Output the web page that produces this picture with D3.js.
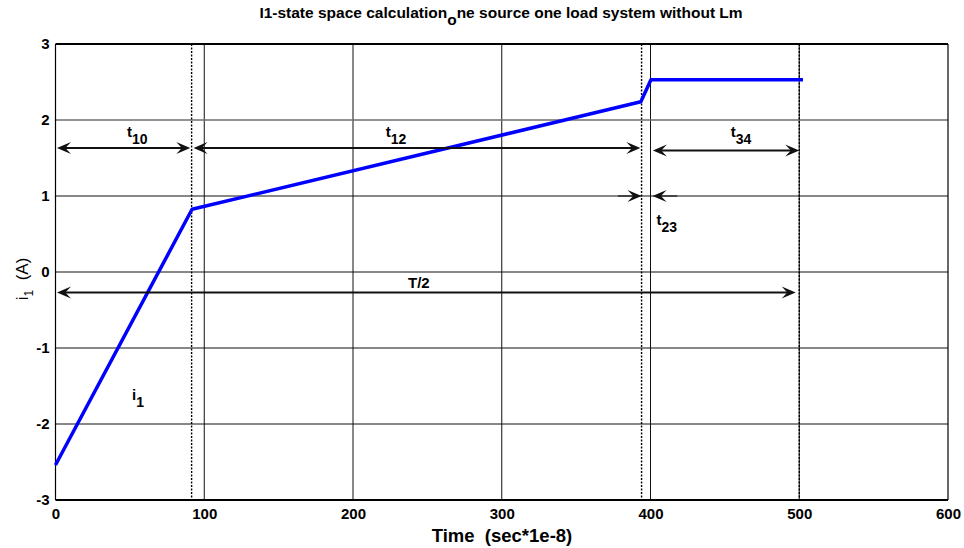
<!DOCTYPE html>
<html>
<head>
<meta charset="utf-8">
<script src="https://cdn.jsdelivr.net/npm/d3@7"></script>
<style>
  body { margin: 0; background: #fff; }
  svg { display: block; font-family: "Liberation Sans", Arial, sans-serif; }
  .tick text { font-weight: bold; font-size: 15px; fill: #000; }
</style>
</head>
<body>
<svg></svg>
<script>
// curve samples (time in 1e-8 s, current in A)
const timeVals = [0, 91.8, 393.5, 400.3, 502.5];
const currentVals = [-2.54, 0.825, 2.24, 2.53, 2.53];

const xTicks = [0, 100, 200, 300, 400, 500, 600];
const yTicks = [-3, -2, -1, 0, 1, 2, 3];

// dotted interval boundaries
const boundaryTimes = [91.5, 394, 500];

// double headed interval arrows
const spanStart = [1, 92.8, 401.6, 1];
const spanEnd = [90.6, 393.2, 500, 497.6];
const spanLevel = [1.63, 1.63, 1.60, -0.27];

// t23 inward arrows
const gapFrom = [378, 418];
const gapTo = [394, 401.4];
const gapLevel = [1.0, 1.0];

// text labels
const labelMain = ["t", "t", "t", "t", "T/2", "i"];
const labelSub = ["10", "12", "34", "23", "", "1"];
const labelX = [48, 222, 454, 404, 237, 51.5];
const labelY = [1.78, 1.78, 1.78, 0.62, -0.21, -1.68];

const width = 964,
      height = 548,
      margin = { top: 44, right: 16, bottom: 48, left: 55.5 };

const x = d3.scaleLinear()
    .domain([0, 600])
    .range([margin.left, width - margin.right]);

const y = d3.scaleLinear()
    .domain([-3, 3])
    .range([height - margin.bottom, margin.top]);

const svg = d3.select("svg")
    .attr("width", width)
    .attr("height", height)
    .attr("viewBox", [0, 0, width, height]);

// grid
svg.append("g")
    .selectAll("line")
    .data(xTicks.slice(1, -1))
    .join("line")
    .attr("x1", d => x(d)).attr("x2", d => x(d))
    .attr("y1", y(3)).attr("y2", y(-3))
    .attr("stroke", "#111").attr("stroke-width", 1);

svg.append("g")
    .selectAll("line")
    .data(yTicks.slice(1, -1))
    .join("line")
    .attr("x1", x(0)).attr("x2", x(600))
    .attr("y1", d => y(d)).attr("y2", d => y(d))
    .attr("stroke", d => d === 2 ? "#6e6e6e" : "#111")
    .attr("stroke-width", d => d === 2 ? 1.5 : 1);

// axes
const fmt = d => String(d);
const xAxis = d3.axisBottom(x).tickValues(xTicks).tickFormat(fmt).tickSize(0).tickPadding(8);
const yAxis = d3.axisLeft(y).tickValues(yTicks).tickFormat(fmt).tickSize(0).tickPadding(6);

svg.append("g")
    .attr("transform", `translate(0,${y(-3)})`)
    .call(xAxis)
    .call(g => g.select(".domain").remove());

svg.append("g")
    .attr("transform", `translate(${x(0)},0)`)
    .call(yAxis)
    .call(g => g.select(".domain").remove());

// box
svg.append("line").attr("x1", x(0)).attr("x2", x(600)).attr("y1", y(-3)).attr("y2", y(-3))
    .attr("stroke", "#000").attr("stroke-width", 2);
svg.append("line").attr("x1", x(0)).attr("x2", x(600)).attr("y1", y(3)).attr("y2", y(3))
    .attr("stroke", "#000").attr("stroke-width", 2);
svg.append("line").attr("x1", x(0)).attr("x2", x(0)).attr("y1", y(3)).attr("y2", y(-3))
    .attr("stroke", "#000").attr("stroke-width", 1.2);
svg.append("line").attr("x1", x(600)).attr("x2", x(600)).attr("y1", y(3)).attr("y2", y(-3))
    .attr("stroke", "#000").attr("stroke-width", 1.2);

// dotted boundaries
svg.append("g")
    .selectAll("line")
    .data(boundaryTimes)
    .join("line")
    .attr("x1", d => x(d)).attr("x2", d => x(d))
    .attr("y1", y(3)).attr("y2", y(-3))
    .attr("stroke", "#000")
    .attr("stroke-width", 1.4)
    .attr("stroke-dasharray", "2,1.5");

// curve
const line = d3.line()
    .x((d, i) => x(timeVals[i]))
    .y(d => y(d));

svg.append("path")
    .attr("fill", "none")
    .attr("stroke", "#0000ff")
    .attr("stroke-width", 3.5)
    .attr("stroke-linejoin", "round")
    .attr("d", line(currentVals));

// arrows
const headLen = 14, headW = 6;
const headPath = d3.line();
function head(px, py, dir) {
    return headPath([
        [px, py],
        [px - dir * headLen, py - headW],
        [px - dir * headLen * 0.6, py],
        [px - dir * headLen, py + headW]
    ]) + "Z";
}

const arrows = svg.append("g");
spanStart.forEach((s, i) => {
    const x1 = x(s), x2 = x(spanEnd[i]), yy = y(spanLevel[i]);
    arrows.append("line")
        .attr("x1", x1 + 6).attr("x2", x2 - 6)
        .attr("y1", yy).attr("y2", yy)
        .attr("stroke", "#111").attr("stroke-width", 2);
    arrows.append("path").attr("d", head(x1, yy, -1)).attr("fill", "#111");
    arrows.append("path").attr("d", head(x2, yy, 1)).attr("fill", "#111");
});

gapFrom.forEach((s, i) => {
    const x1 = x(s), x2 = x(gapTo[i]), yy = y(gapLevel[i]);
    const dir = x2 > x1 ? 1 : -1;
    arrows.append("line")
        .attr("x1", x1).attr("x2", x2 - dir * 6)
        .attr("y1", yy).attr("y2", yy)
        .attr("stroke", "#444").attr("stroke-width", 2);
    arrows.append("path").attr("d", head(x2, yy, dir)).attr("fill", "#111");
});

// labels
const labels = svg.append("g")
    .attr("font-weight", "bold")
    .attr("font-size", 15);

labelMain.forEach((m, i) => {
    const t = labels.append("text")
        .attr("x", x(labelX[i]))
        .attr("y", y(labelY[i]));
    t.append("tspan").text(m);
    if (labelSub[i]) {
        t.append("tspan").attr("dy", 7).attr("font-size", 14).text(labelSub[i]);
    }
});

// title
const title = svg.append("text")
    .attr("x", 501)
    .attr("y", 18)
    .attr("text-anchor", "middle")
    .attr("font-weight", "bold")
    .attr("font-size", 15.5);
title.append("tspan").text("I1-state space calculation");
title.append("tspan").attr("dy", 7).text("o");
title.append("tspan").attr("dy", -7).text("ne source one load system without Lm");

// axis labels
svg.append("text")
    .attr("x", 502)
    .attr("y", 542)
    .attr("text-anchor", "middle")
    .attr("font-weight", "bold")
    .attr("font-size", 18.5)
    .style("white-space", "pre")
    .text("Time  (sec*1e-8)");

const yl = svg.append("text")
    .attr("transform", `translate(28,279) rotate(-90)`)
    .attr("text-anchor", "middle")
    .attr("font-size", 17);
yl.append("tspan").text("i");
yl.append("tspan").attr("dy", 5).attr("font-size", 12).text("1");
yl.append("tspan").attr("dy", -5).style("white-space", "pre").text("  (A)");
</script>
</body>
</html>
